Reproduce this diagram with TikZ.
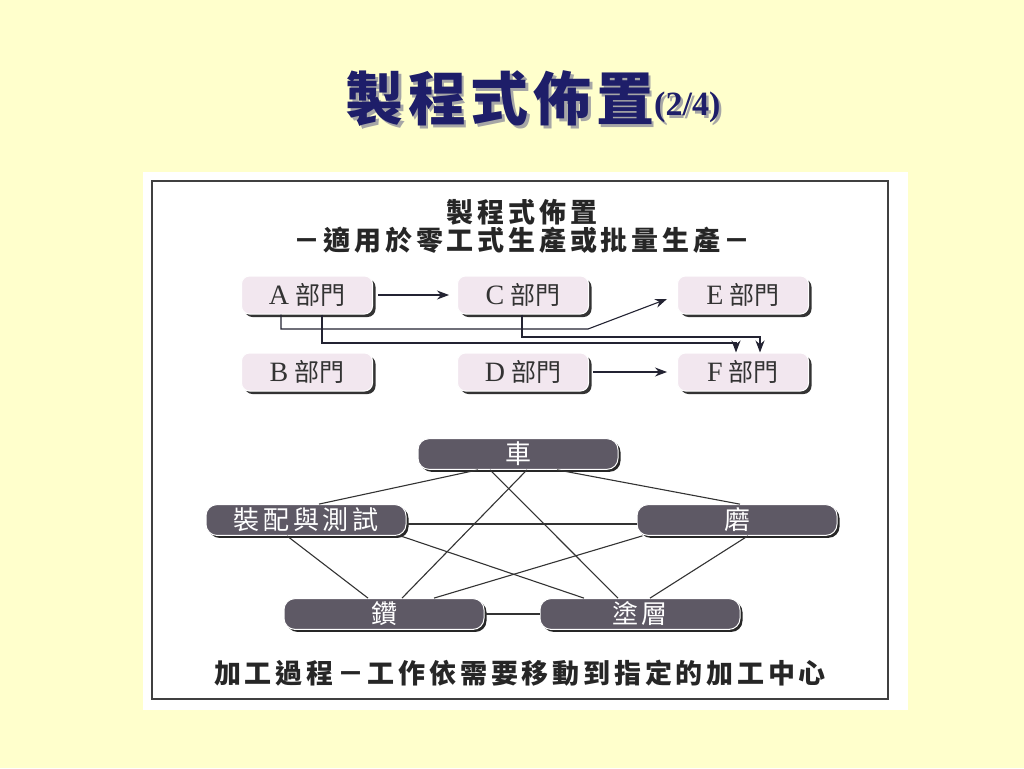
\documentclass[tikz,border=0pt]{standalone}
\usepackage{fontspec}
\setmainfont{Liberation Serif}
\newfontfamily\cjk{Noto Sans CJK TC}
\usetikzlibrary{arrows.meta,shadows}
\definecolor{slidebg}{RGB}{255,255,204}
\definecolor{titlenavy}{RGB}{30,30,105}
\definecolor{deptfill}{RGB}{242,231,239}
\definecolor{wcfill}{RGB}{94,89,101}
\definecolor{linecol}{RGB}{35,35,50}
\newcommand{\slidetitle}{{\cjk\bfseries\fontsize{58}{60}\selectfont\addfontfeatures{LetterSpace=8}製程式佈置}\raisebox{5pt}{\bfseries\fontsize{34}{36}\selectfont(2/4)}}
\begin{document}
\begin{tikzpicture}[x=1pt,y=-1pt]
    \tikzstyle{titletext} = [inner sep=0pt, text=titlenavy]
    \tikzstyle{headtext} = [inner sep=0pt, text=black!85, font=\cjk\bfseries\fontsize{27}{29}\selectfont\addfontfeatures{LetterSpace=14}]
    \tikzstyle{dept} = [rectangle, rounded corners=8pt, minimum width=131pt, minimum height=38pt, text centered, fill=deptfill, draw=white, line width=1pt, general shadow={fill=black!80, shadow xshift=3pt, shadow yshift=-3pt}, text=black!80, font=\cjk\fontsize{25}{27}\selectfont]
    \tikzstyle{wc} = [rectangle, rounded corners=11pt, minimum width=200pt, minimum height=30pt, text centered, fill=wcfill, draw=white!85, line width=1pt, general shadow={fill=black!85, shadow xshift=2.5pt, shadow yshift=-2.5pt}, text=white!85, font=\cjk\fontsize{26}{28}\selectfont\addfontfeatures{LetterSpace=14}]
    \tikzstyle{arrow} = [draw=linecol, line width=1.1pt, ->, >={Stealth[length=12pt,width=9pt]}]
    \tikzstyle{link} = [draw=black!80, line width=1.1pt]
    \useasboundingbox (0,0) rectangle (1024,768);
    \fill[slidebg] (0,0) rectangle (1024,768);
    \fill[white] (143,172) rectangle (908,710);
    \draw[black!75, line width=1.5pt] (152,181) rectangle (888,699);
    \node (titleshade) [titletext, text=black!35] at (535.5,101.5) {\slidetitle};
    \node (title) [titletext] at (533,99) {\slidetitle};
    \node (head1) [headtext] at (522,212) {製程式佈置};
    \node (head2) [headtext] at (522,240) {－適用於零工式生產或批量生產－};
    \node (a) [dept] at (307,295) {\textrm{\fontsize{28}{28}\selectfont A}\hspace{6pt}部門};
    \node (c) [dept] at (523,295) {\textrm{\fontsize{28}{28}\selectfont C}\hspace{6pt}部門};
    \node (e) [dept] at (743,295) {\textrm{\fontsize{28}{28}\selectfont E}\hspace{6pt}部門};
    \node (b) [dept] at (307,372) {\textrm{\fontsize{28}{28}\selectfont B}\hspace{6pt}部門};
    \node (d) [dept] at (523,372) {\textrm{\fontsize{28}{28}\selectfont D}\hspace{6pt}部門};
    \node (f) [dept] at (743,372) {\textrm{\fontsize{28}{28}\selectfont F}\hspace{6pt}部門};
    \coordinate (bendE) at (588,329);
    \coordinate (bendFa) at (736,343);
    \coordinate (bendFb) at (760,337);
    \draw[arrow, shorten <=5pt, shorten >=8pt] (a) -- (c);
    \draw[arrow, shorten <=4pt, shorten >=10pt] (d) -- (f);
    \draw[arrow] ([xshift=-26pt]a.south) |- (bendE) -- ([xshift=-10pt,yshift=-4pt]e.west);
    \draw[arrow] ([xshift=15pt]a.south) |- (bendFa) -- ([xshift=-7pt]f.north);
    \draw[arrow] ([xshift=-1pt]c.south) |- (bendFb) -- ([xshift=17pt]f.north);
    \node (che) [wc] at (518,454) {車};
    \node (asm) [wc] at (306,520) {裝配與測試};
    \node (grind) [wc] at (737,520) {磨};
    \node (drill) [wc] at (384,614) {鑽};
    \node (coat) [wc] at (640,614) {塗層};
    \draw[link] ([xshift=-40pt]che.south) -- ([xshift=13pt]asm.north);
    \draw[link] ([xshift=39pt]che.south) -- ([xshift=3pt]grind.north);
    \draw[link] ([xshift=9pt]che.south) -- ([xshift=18pt]drill.north);
    \draw[link] ([xshift=-28pt]che.south) -- ([xshift=-22pt]coat.north);
    \draw[link] ([yshift=-4pt]asm.east) -- ([yshift=-4pt]grind.west);
    \draw[link] ([xshift=-19pt]asm.south) -- ([xshift=-16pt]drill.north);
    \draw[link] ([xshift=-6pt]asm.south east) -- ([xshift=-56pt]coat.north);
    \draw[link] ([xshift=6pt]grind.south west) -- ([xshift=50pt]drill.north);
    \draw[link] ([xshift=11pt]grind.south) -- ([xshift=10pt]coat.north);
    \draw[link] (drill) -- (coat);
    \node (foot) [headtext] at (520,673) {加工過程－工作依需要移動到指定的加工中心};
\end{tikzpicture}
\end{document}
